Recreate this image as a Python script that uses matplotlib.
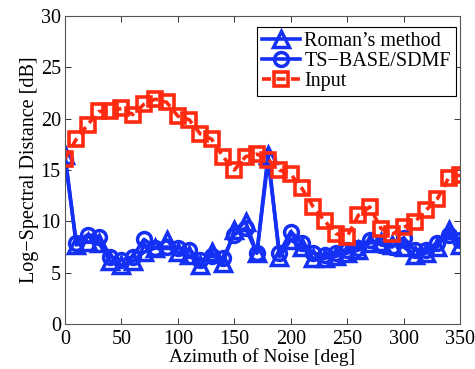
import numpy as np
import matplotlib
matplotlib.use("Agg")
import matplotlib.pyplot as plt

azimuth = list(range(0, 360, 10))

roman = [16.5, 7.7, 8.0, 7.9, 6.1, 5.75, 6.1, 7.0, 7.4, 8.2,
         7.0, 6.7, 5.75, 7.0, 5.9, 9.15, 9.95, 6.9, 16.5, 6.55,
         8.2, 7.5, 6.4, 6.4, 6.6, 6.9, 7.2, 7.9, 8.0, 7.7,
         7.5, 6.7, 6.9, 7.5, 9.15, 7.7]

tsbase = [16.1, 7.9, 8.7, 8.5, 6.55, 6.2, 6.55, 8.25, 7.4, 7.5,
          7.4, 7.2, 6.2, 6.6, 6.4, 8.7, 9.35, 6.9, 16.0, 6.9,
          9.0, 7.9, 6.9, 6.7, 6.9, 7.2, 7.4, 8.2, 7.7, 7.5,
          8.4, 7.2, 7.2, 7.9, 8.7, 8.2]

inp = [16.1, 18.0, 19.4, 20.7, 20.7, 21.0, 20.4, 21.4, 21.9, 21.6,
       20.25, 19.9, 18.5, 18.0, 16.3, 15.0, 16.3, 16.55, 16.0, 15.0,
       14.6, 13.2, 11.4, 10.05, 8.8, 8.5, 10.6, 11.4, 9.3, 8.75,
       9.4, 9.95, 11.1, 12.2, 14.25, 14.5]

xticks = [0, 50, 100, 150, 200, 250, 300, 350]
yticks = [0, 5, 10, 15, 20, 25, 30]

plt.rcParams['font.family'] = ['Liberation Serif', 'DejaVu Serif']

fig = plt.figure(figsize=(4.75, 3.69), dpi=100)
ax = fig.add_axes([65/475, 1-324/369, (460-65)/475, (324-16)/369])

blue = '#1530f5'
red = '#ff2a10'
fs = 14.5

ax.plot(azimuth, roman, color=blue, lw=2.6, marker='^', ms=11, mew=2.5,
        mfc='none', mec=blue, label="Roman’s method")
ax.plot(azimuth, tsbase, color=blue, lw=2.6, marker='o', ms=10, mew=2.5,
        mfc='none', mec=blue, label='TS−BASE/SDMF')
ax.plot(azimuth, inp, color=red, lw=2.6, ls=(0, (2.5, 1.5)), marker='s', ms=10,
        mew=2.6, mfc='none', mec=red, label='Input')

ax.set_xlim(0, 350)
ax.set_ylim(0, 30)
ax.set_xticks(xticks)
ax.set_yticks(yticks)
ax.tick_params(direction='in', top=True, right=True, labelsize=fs,
               length=4, width=0.7, colors='#333333', labelcolor='black')
ax.tick_params(axis='x', pad=4)
ax.tick_params(axis='y', pad=3)
for s in ax.spines.values():
    s.set_linewidth(0.8)
    s.set_color('#555555')

ax.set_xlabel('Azimuth of Noise [deg]', fontsize=14, labelpad=0)
ax.set_ylabel('Log−Spectral Distance [dB]', fontsize=fs, labelpad=1)

leg = ax.legend(loc='upper right', bbox_to_anchor=(1.0, 0.978), fontsize=fs,
                frameon=True, fancybox=False, edgecolor='black', framealpha=1,
                numpoints=1, handlelength=1.9, handletextpad=0.2,
                borderpad=0.25, labelspacing=0.05, borderaxespad=0.2)
leg.get_frame().set_linewidth(0.8)

fig.savefig('out.png', dpi=100)
